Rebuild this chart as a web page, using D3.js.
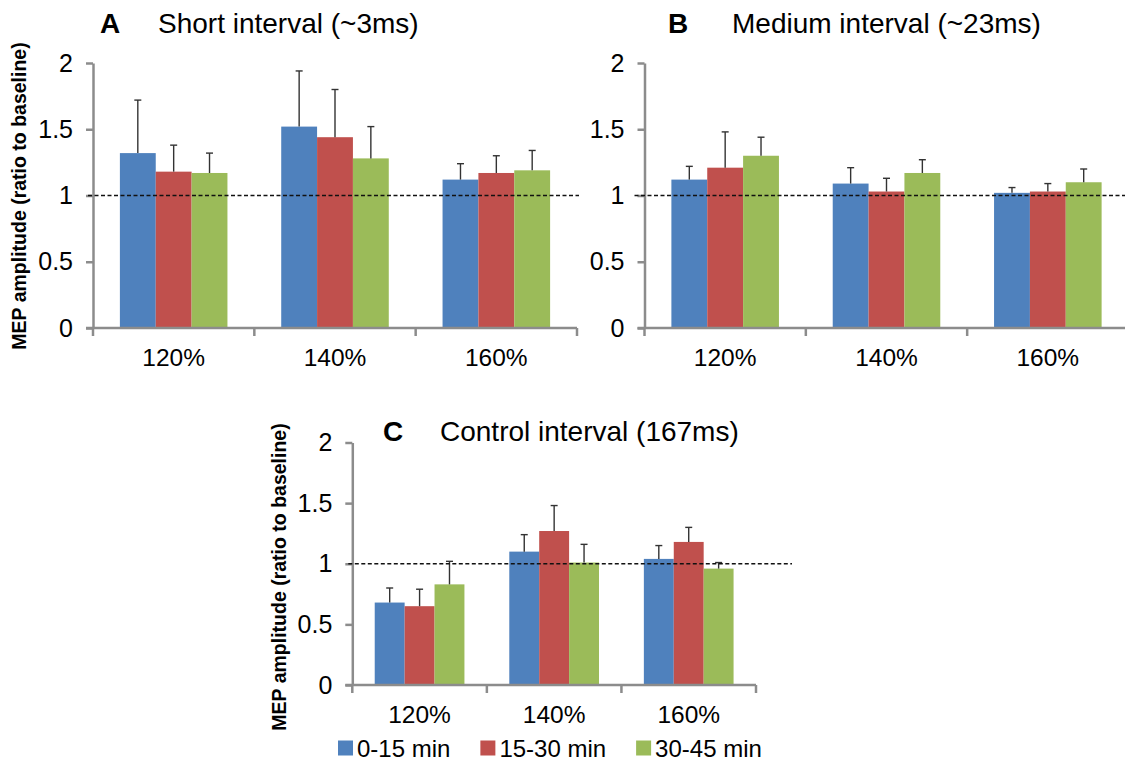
<!DOCTYPE html>
<html>
<head>
<meta charset="utf-8">
<script src="https://cdn.jsdelivr.net/npm/d3@7"></script>
<style>
  body { margin: 0; background: #fff; }
  svg { display: block; font-family: "Liberation Sans", Arial, sans-serif; }
</style>
</head>
<body>
<div id="chart"></div>
<script>
// categories and series
const categories = ["120%", "140%", "160%"];
const series = ["0-15 min", "15-30 min", "30-45 min"];
const colors = ["#4f81bd", "#c0504d", "#9bbb59"];
const yTicks = [0, 0.5, 1, 1.5, 2];
const baseline = 1;

// mean MEP ratio, one row per series (0-15, 15-30, 30-45), one value per category
const shortMean = [[1.32, 1.52, 1.12], [1.18, 1.44, 1.17], [1.17, 1.28, 1.19]];
const shortErr  = [[0.40, 0.42, 0.12], [0.20, 0.36, 0.13], [0.15, 0.24, 0.15]];
const mediumMean = [[1.12, 1.09, 1.02], [1.21, 1.03, 1.03], [1.30, 1.17, 1.10]];
const mediumErr  = [[0.10, 0.12, 0.04], [0.27, 0.10, 0.06], [0.14, 0.10, 0.10]];
const controlMean = [[0.68, 1.10, 1.04], [0.65, 1.27, 1.18], [0.83, 1.01, 0.96]];
const controlErr  = [[0.12, 0.14, 0.11], [0.14, 0.21, 0.12], [0.19, 0.15, 0.05]];

const W = 1125, H = 763;
const svg = d3.select("#chart").append("svg")
    .attr("width", W)
    .attr("height", H);

// soft shadow under the dashed baseline
svg.append("defs").append("filter")
    .attr("id", "blur")
    .append("feGaussianBlur")
    .attr("stdDeviation", 1.2);

const axisColor = "#8c8c8c";

function drawPanel(p) {
    const g = svg.append("g");

    const x = d3.scaleBand().domain(categories).range([p.left, p.right]);
    // 3 bars with a gap of 1.5 bar widths between groups
    const xs = d3.scaleBand().domain(series).range([0, x.bandwidth()])
        .paddingInner(0).paddingOuter(0.75);
    const y = d3.scaleLinear().domain([0, 2]).range([p.bottom, p.top]);

    // bars
    series.forEach((s, si) => {
        g.selectAll(null)
            .data(categories)
            .enter()
            .append("rect")
            .attr("x", (c) => x(c) + xs(s))
            .attr("y", (c, ci) => y(p.mean[si][ci]))
            .attr("width", xs.bandwidth())
            .attr("height", (c, ci) => y(0) - y(p.mean[si][ci]))
            .attr("fill", colors[si]);
    });

    // error bars (upper only)
    series.forEach((s, si) => {
        categories.forEach((c, ci) => {
            const cx = x(c) + xs(s) + xs.bandwidth() / 2;
            const top = y(p.mean[si][ci] + p.err[si][ci]);
            g.append("line")
                .attr("x1", cx).attr("x2", cx)
                .attr("y1", y(p.mean[si][ci])).attr("y2", top)
                .attr("stroke", "#333").attr("stroke-width", 1.4);
            g.append("line")
                .attr("x1", cx - 3.5).attr("x2", cx + 3.5)
                .attr("y1", top).attr("y2", top)
                .attr("stroke", "#333").attr("stroke-width", 1.4);
        });
    });

    // y axis
    const yAxis = g.append("g")
        .attr("transform", `translate(${p.left}, 0)`)
        .call(d3.axisLeft(y).tickValues(yTicks).tickFormat(d3.format("")).tickSize(7).tickSizeOuter(0).tickPadding(13));
    yAxis.select(".domain").attr("stroke", axisColor).attr("stroke-width", 2.5);
    yAxis.selectAll(".tick line").attr("stroke", axisColor).attr("stroke-width", 2.5);
    yAxis.selectAll(".tick text")
        .attr("fill", "#000")
        .style("font-size", "25px")
        .style("font-family", "'Liberation Sans', Arial, sans-serif");

    // x axis line with ticks at category boundaries
    g.append("line")
        .attr("x1", p.left - 7).attr("x2", p.right)
        .attr("y1", y(0)).attr("y2", y(0))
        .attr("stroke", axisColor).attr("stroke-width", 2.5);
    const bounds = categories.map((c) => x(c)).concat([x.range()[1]]);
    g.selectAll(null)
        .data(bounds)
        .enter()
        .append("line")
        .attr("x1", (d) => d).attr("x2", (d) => d)
        .attr("y1", y(0)).attr("y2", y(0) + 8)
        .attr("stroke", axisColor).attr("stroke-width", 2.5);

    g.selectAll(null)
        .data(categories)
        .enter()
        .append("text")
        .attr("x", (c) => x(c) + x.bandwidth() / 2)
        .attr("y", y(0) + 38)
        .attr("text-anchor", "middle")
        .style("font-size", "24.5px")
        .text((c) => c);

    // dashed baseline at ratio 1
    g.append("line")
        .attr("x1", p.left - p.refStart).attr("x2", p.right + p.refEnd)
        .attr("y1", y(baseline) + 2).attr("y2", y(baseline) + 2)
        .attr("stroke", "#999").attr("stroke-width", 3.5).attr("opacity", 0.6)
        .attr("filter", "url(#blur)");
    g.append("line")
        .attr("x1", p.left - p.refStart).attr("x2", p.right + p.refEnd)
        .attr("y1", y(baseline)).attr("y2", y(baseline))
        .attr("stroke", "#111").attr("stroke-width", 1.6)
        .attr("stroke-dasharray", "4,2.5");

    // panel letter and title
    g.append("text")
        .attr("x", p.letterX).attr("y", p.titleY)
        .style("font-size", "28px").style("font-weight", "bold")
        .text(p.letter);
    g.append("text")
        .attr("x", p.titleX).attr("y", p.titleY)
        .style("font-size", "28px")
        .text(p.title);

    if (p.yTitleX) {
        g.append("text")
            .attr("transform", `translate(${p.yTitleX}, ${p.yTitleY}) rotate(-90)`)
            .attr("text-anchor", "middle")
            .style("font-size", "19.5px").style("font-weight", "bold")
            .text("MEP amplitude (ratio to baseline)");
    }
}

drawPanel({ left: 93, right: 577, top: 63, bottom: 328, mean: shortMean, err: shortErr,
    refStart: 5, refEnd: 2, letter: "A", letterX: 100, title: "Short interval (~3ms)", titleX: 158, titleY: 33,
    yTitleX: 26, yTitleY: 196 });
drawPanel({ left: 644.5, right: 1128.5, top: 63, bottom: 328, mean: mediumMean, err: mediumErr,
    refStart: 10, refEnd: 0, letter: "B", letterX: 668, title: "Medium interval (~23ms)", titleX: 732, titleY: 33 });
drawPanel({ left: 352.3, right: 756, top: 442.5, bottom: 685, mean: controlMean, err: controlErr,
    refStart: 4, refEnd: 36, letter: "C", letterX: 383, title: "Control interval (167ms)", titleX: 440, titleY: 441,
    yTitleX: 286, yTitleY: 577 });

// legend
const legend = svg.append("g").attr("transform", "translate(338, 748)");
let lx = 0;
series.forEach((s, i) => {
    legend.append("rect")
        .attr("x", lx).attr("y", -7.5)
        .attr("width", 15).attr("height", 15)
        .attr("fill", colors[i]);
    const t = legend.append("text")
        .attr("x", lx + 19).attr("y", 8.5)
        .style("font-size", "24px")
        .text(s);
    lx += 19 + t.node().getComputedTextLength() + 30;
});
</script>
</body>
</html>
